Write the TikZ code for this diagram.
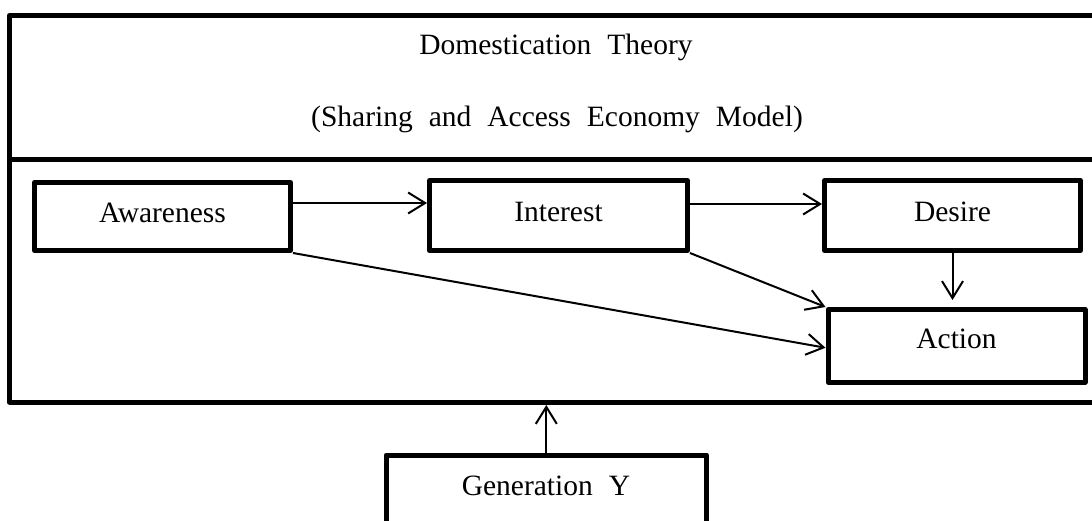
\documentclass[tikz,border=0pt]{standalone}
\usepackage{fontspec}
\setmainfont{Liberation Serif}
\usetikzlibrary{arrows.meta}
\newcommand\widewords{\spaceskip=16pt\relax}
\begin{document}
\begin{tikzpicture}[x=1pt,y=-1pt,
  frame/.style={draw, line width=5pt, line join=round, inner sep=0pt, outer sep=0pt, anchor=north west},
  box/.style={draw, line width=5pt, line join=round, inner sep=0pt, text height=20pt, text depth=7pt, font=\fontsize{29.5}{35}\selectfont},
  lbl/.style={inner sep=0pt, anchor=base, font=\fontsize{29.5}{35}\selectfont, execute at begin node=\widewords},
  arr/.style={line width=2pt, -{Straight Barb[length=17pt,width=21pt]}}]
\useasboundingbox (0,0) rectangle (1092,521);
% outer frame: header and body
\node[frame, minimum width=1100pt, minimum height=144pt] (head) at (9.5,15.5) {};
\node[frame, minimum width=1100pt, minimum height=242.5pt] (body) at (9.5,159.5) {};
\node[lbl] (t1) at (556,55) {Domestication Theory};
\node[lbl] (t2) at (557,127) {(Sharing and Access Economy Model)};
% AIDA boxes
\node[box, minimum width=256pt, minimum height=68pt] (aw) at (162.5,216.5) {Awareness};
\node[box, minimum width=258pt, minimum height=70pt] (in) at (558.5,215.5) {Interest};
\node[box, minimum width=256pt, minimum height=70pt] (des) at (952.5,215.5) {Desire};
\node[box, minimum width=257pt, minimum height=72.5pt, text depth=15.5pt] (act) at (956.5,345.75) {Action};
% Generation Y
\node[box, minimum width=320.5pt, minimum height=120pt, anchor=north] (gen) at (546.3,452.5) {};
\node[lbl] (gentext) at (546,495) {Generation Y};
% connectors
\draw[arr] ([yshift=13.5pt]aw.east) -- ([yshift=13.5pt]aw.east -| in.west);
\draw[arr] ([yshift=11.5pt]in.east) -- ([yshift=11.5pt]in.east -| des.west);
\draw[arr, shorten >=7pt] (des.south) -- (des.south |- act.north);
\draw[arr] (aw.south east) -- ([yshift=-2pt]act.west);
\draw[arr] (in.south east) -- (act.north west);
\draw[arr, shorten >=3pt] (gen.north) -- (gen.north |- body.south);
\end{tikzpicture}
\end{document}
